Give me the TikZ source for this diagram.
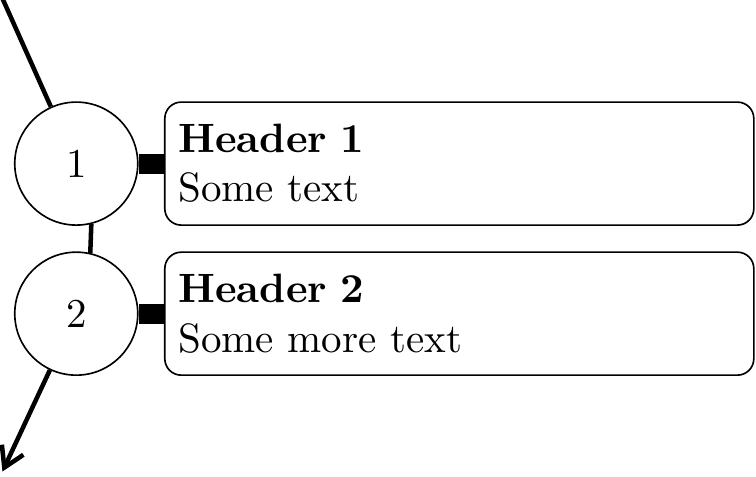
\documentclass[tikz,border=0pt]{standalone}
\usetikzlibrary{positioning, arrows.meta}

\begin{document}
\begin{tikzpicture}[
            milestone/.style={draw, circle, minimum size=30pt, inner sep=0pt},
            card/.style={draw, rounded corners, text width=137pt, minimum height=30pt, align=left},
            flow/.style={line width=1.1pt},
            link/.style={line width=4.9pt},
        ]
            \useasboundingbox (0, 0) rectangle (184.4pt, -116.3pt);
            \node[milestone] (c1) at (18.6pt, -39.9pt) {1};
            \node[milestone, below=6.2pt of c1] (c2) {2};
            \node[card, right=6.2pt of c1] (b1) {\textbf{Header 1}\\Some text};
            \node[card, right=6.2pt of c2] (b2) {\textbf{Header 2}\\Some more text};
            \coordinate (start) at (0.1pt, 1.5pt);
            \coordinate (finish) at (0.6pt, -115pt);
            \draw[flow] (start) -- (c1);
            \draw[flow] (c1.-76) -- (c2.77);
            \draw[flow, -{Straight Barb[length=4.8pt, width=5.8pt]}] (c2) -- (finish);
            \draw[link] (c1) -- (b1);
            \draw[link] (c2) -- (b2);
        \end{tikzpicture}
\end{document}
